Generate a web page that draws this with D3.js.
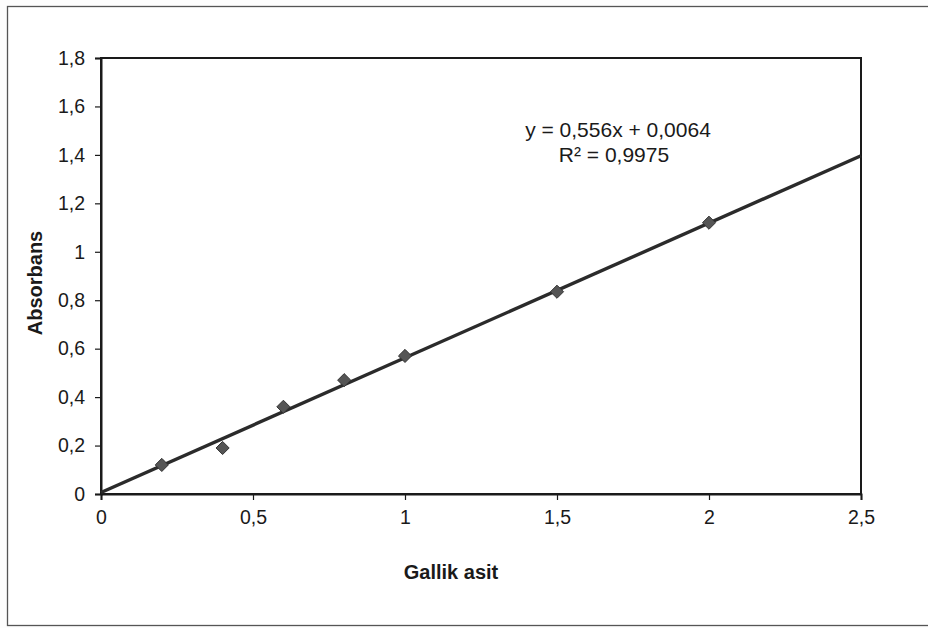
<!DOCTYPE html>
<html>
<head>
<meta charset="utf-8">
<script src="https://cdn.jsdelivr.net/npm/d3@7"></script>
<style>
  html, body { margin: 0; padding: 0; background: #fdfdfd; }
  svg { display: block; }
  text { font-family: "Liberation Sans", Arial, sans-serif; fill: #1a1a1a; }
</style>
</head>
<body>
<svg id="chart" width="928" height="628"></svg>
<script>
// Gallic acid calibration: concentration vs absorbance
const concentrations = [0.2, 0.4, 0.6, 0.8, 1.0, 1.5, 2.0];
const absorbances   = [0.12, 0.19, 0.36, 0.47, 0.57, 0.835, 1.12];
const slope = 0.556;
const intercept = 0.0064;
const equationText = "y = 0,556x + 0,0064";
const r2Text = "R² = 0,9975";
const xTicks = [0, 0.5, 1, 1.5, 2, 2.5];
const yTicks = [0, 0.2, 0.4, 0.6, 0.8, 1, 1.2, 1.4, 1.6, 1.8];

const svg = d3.select("#chart");
const plot = { left: 101, right: 861, top: 58, bottom: 494 };

const x = d3.scaleLinear().domain([0, 2.5]).range([plot.left, plot.right]);
const y = d3.scaleLinear().domain([0, 1.8]).range([plot.bottom, plot.top]);
const fmt = d => String(d).replace(".", ",");

// outer frame
svg.append("rect")
  .attr("x", 7.5).attr("y", 6.5).attr("width", 940).attr("height", 619)
  .attr("fill", "#fff").attr("stroke", "#555").attr("stroke-width", 1.3);

// plot area
svg.append("rect")
  .attr("x", plot.left).attr("y", plot.top)
  .attr("width", plot.right - plot.left).attr("height", plot.bottom - plot.top)
  .attr("fill", "#fff").attr("stroke", "#1a1a1a").attr("stroke-width", 2);

// axes
const xAxis = svg.append("g")
  .attr("transform", `translate(0,${plot.bottom})`)
  .call(d3.axisBottom(x).tickValues(xTicks).tickFormat(fmt).tickSize(6).tickPadding(10));
const yAxis = svg.append("g")
  .attr("transform", `translate(${plot.left},0)`)
  .call(d3.axisLeft(y).tickValues(yTicks).tickFormat(fmt).tickSize(6).tickPadding(10));
[xAxis, yAxis].forEach(g => {
  g.select(".domain").attr("stroke", "#1a1a1a").attr("stroke-width", 2);
  g.selectAll(".tick line").attr("stroke", "#1a1a1a").attr("stroke-width", 1.2);
  g.selectAll(".tick text").style("font-size", "19.5px").attr("fill", "#1a1a1a")
    .style("font-family", "'Liberation Sans', Arial, sans-serif");
});

// linear trendline
svg.append("line")
  .attr("x1", x(0)).attr("y1", y(intercept))
  .attr("x2", x(2.5)).attr("y2", y(slope * 2.5 + intercept))
  .attr("stroke", "#2b2b2b").attr("stroke-width", 3.4);

// measured points
svg.append("g").selectAll("path")
  .data(concentrations.map((c, i) => [c, absorbances[i]]))
  .join("path")
  .attr("d", d3.symbol(d3.symbolDiamond2, 110))
  .attr("transform", d => `translate(${x(d[0])},${y(d[1])})`)
  .attr("fill", "#555").attr("stroke", "#333").attr("stroke-width", 1);

// regression equation
svg.append("text").attr("x", 618).attr("y", 137).attr("text-anchor", "middle")
  .style("font-size", "21px").text(equationText);
svg.append("text").attr("x", 614).attr("y", 162).attr("text-anchor", "middle")
  .style("font-size", "21px").text(r2Text);

// axis titles
svg.append("text").attr("x", 451).attr("y", 579).attr("text-anchor", "middle")
  .style("font-size", "20px").style("font-weight", "bold").text("Gallik asit");
svg.append("text").attr("transform", "translate(42,283) rotate(-90)")
  .attr("text-anchor", "middle")
  .style("font-size", "20px").style("font-weight", "bold").text("Absorbans");
</script>
</body>
</html>
